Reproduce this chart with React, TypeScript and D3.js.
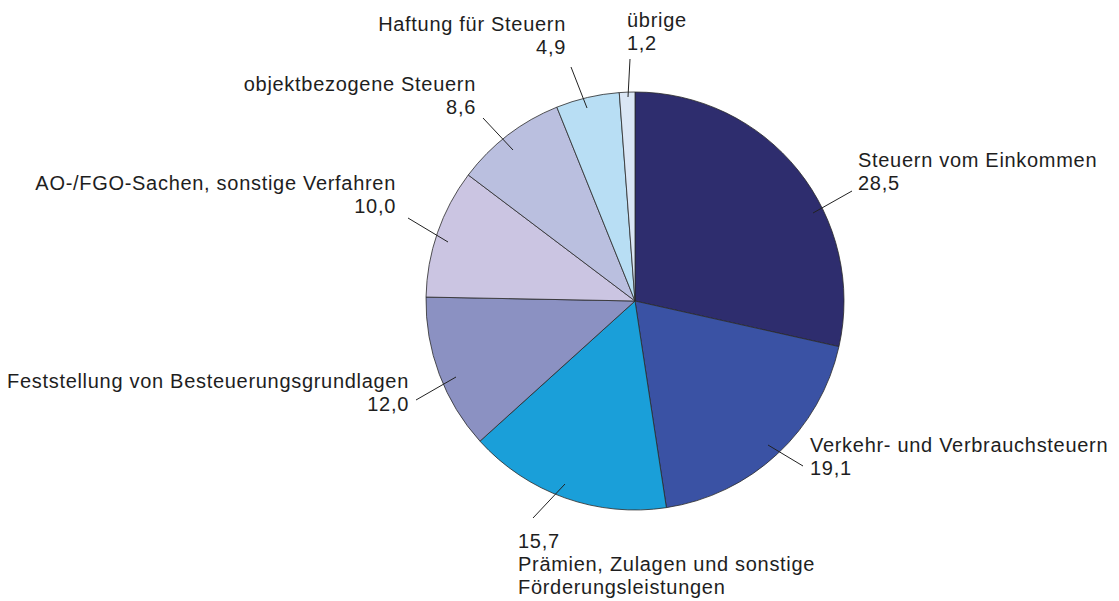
import React from "react";
import * as d3 from "d3";

const categories = [
  "Steuern vom Einkommen",
  "Verkehr- und Verbrauchsteuern",
  "Prämien, Zulagen und sonstige Förderungsleistungen",
  "Feststellung von Besteuerungsgrundlagen",
  "AO-/FGO-Sachen, sonstige Verfahren",
  "objektbezogene Steuern",
  "Haftung für Steuern",
  "übrige",
];
const values = [28.5, 19.1, 15.7, 12.0, 10.0, 8.6, 4.9, 1.2];
const colors = ["#2e2d6e", "#3a52a4", "#1a9fd9", "#8b91c2", "#cbc5e2", "#babfdf", "#b8def4", "#dae6f5"];

// label layout: text lines (value inserted as "{v}"), anchor, position, leader line
const labelLayout = [
  { lines: ["Steuern vom Einkommen", "{v}"], anchor: "start", x: 858, y: 167, leader: [[813, 213], [852, 191]] },
  { lines: ["Verkehr- und Verbrauchsteuern", "{v}"], anchor: "start", x: 810, y: 452, leader: [[768, 445], [803, 466]] },
  { lines: ["{v}", "Prämien, Zulagen und sonstige", "Förderungsleistungen"], anchor: "start", x: 518, y: 548, leader: [[565, 484], [533, 518]] },
  { lines: ["Feststellung von Besteuerungsgrundlagen", "{v}"], anchor: "end", x: 409, y: 388, leader: [[456, 377], [416, 400]] },
  { lines: ["AO-/FGO-Sachen, sonstige Verfahren", "{v}"], anchor: "end", x: 396, y: 190, leader: [[448, 242], [408, 218]] },
  { lines: ["objektbezogene Steuern", "{v}"], anchor: "end", x: 476, y: 91, leader: [[513, 150], [483, 118]] },
  { lines: ["Haftung für Steuern", "{v}"], anchor: "end", x: 566, y: 31, leader: [[587, 108], [571, 67]] },
  { lines: ["übrige", "{v}"], anchor: "start", x: 627, y: 27, leader: [[628, 97], [630, 59]] },
];

const fmt = (v: number) => v.toFixed(1).replace(".", ",");

export default function App() {
  const W = 1119, H = 601;
  const cx = 635, cy = 301, R = 209;
  const pie = d3.pie<number>().sort(null).value((d) => d);
  const arcs = pie(values);
  const arc = d3.arc<d3.PieArcDatum<number>>().innerRadius(0).outerRadius(R);
  const lineH = 23;
  return (
    <svg width={W} height={H} style={{ position: "absolute", left: 0, top: 0, background: "#fff" }}>
      <g transform={`translate(${cx},${cy})`}>
        {arcs.map((a, i) => (
          <path key={i} d={arc(a) || ""} fill={colors[i]} stroke="#2a2a2a" strokeWidth={0.8} strokeLinejoin="round">
            <title>{categories[i]}</title>
          </path>
        ))}
      </g>
      {labelLayout.map((l, i) => (
        <g key={i}>
          <line x1={l.leader[0][0]} y1={l.leader[0][1]} x2={l.leader[1][0]} y2={l.leader[1][1]} stroke="#222" strokeWidth={1} />
          <text
            x={l.x}
            y={l.y}
            textAnchor={l.anchor as any}
            fontFamily="'Liberation Sans', Arial, sans-serif"
            fontSize={20}
            fill="#1e1e1e"
            letterSpacing={0.7}
          >
            {l.lines.map((t, j) => (
              <tspan key={j} x={l.x} y={l.y + j * lineH}>
                {t.replace("{v}", fmt(values[i]))}
              </tspan>
            ))}
          </text>
        </g>
      ))}
    </svg>
  );
}
